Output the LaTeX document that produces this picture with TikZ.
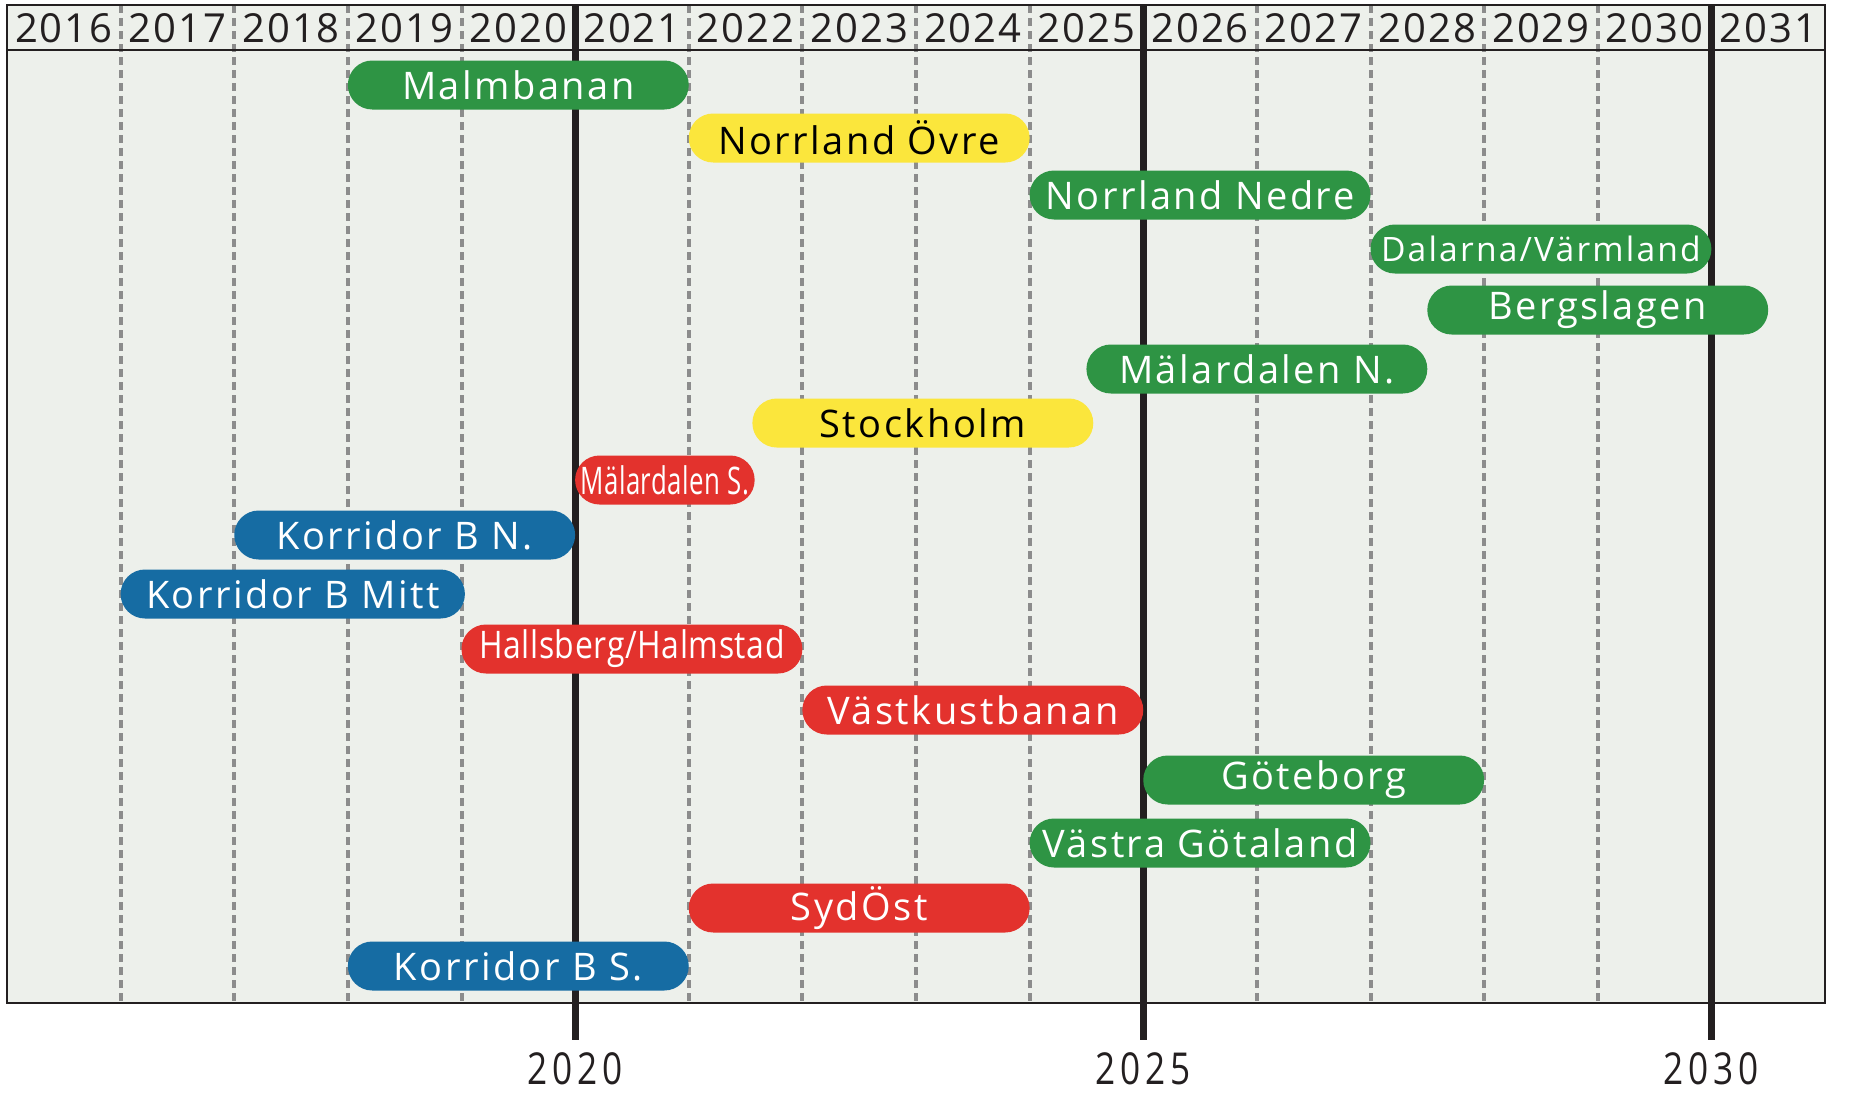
\documentclass[tikz,border=0pt]{standalone}
\usepackage{fontspec}
\setmainfont{Open Sans}
\newfontfamily\barfont[LetterSpace=6.5]{Open Sans}
\newfontfamily\yearfont[LetterSpace=5]{Open Sans}
\newfontfamily\condfont[LetterSpace=2]{Open Sans}
\newfontfamily\botfont[LetterSpace=14]{Open Sans}
\definecolor{bg}{RGB}{237,240,235}
\definecolor{tgreen}{RGB}{46,148,68}
\definecolor{tyellow}{RGB}{251,230,60}
\definecolor{tred}{RGB}{227,50,45}
\definecolor{tblue}{RGB}{22,108,163}
\definecolor{dgray}{RGB}{140,140,140}
\definecolor{framec}{RGB}{35,31,32}
\newcommand\ganttbar[7]{\node[tbar,fill=#2,text=#3,minimum width={(#5-#4)*56.8125pt}] (#1) at ({7+((#4+#5)/2-2016)*113.625},#6) {#7};}
\begin{document}
\begin{tikzpicture}[x=0.5pt,y=-0.5pt,
  tbar/.style={rounded corners=12.2pt, minimum height=24.5pt, inner sep=0pt, font=\barfont\fontsize{19}{20}\selectfont},
  dashline/.style={dgray, line width=2pt, dash pattern=on 4pt off 2.5pt},
  thickline/.style={framec, line width=3.5pt},
  yearlab/.style={font=\yearfont\fontsize{20}{22}\selectfont, text=framec, inner sep=0pt},
  bottomlab/.style={font=\botfont\fontsize{22}{24}\selectfont, text=framec, inner sep=0pt}]
\useasboundingbox (0,0) rectangle (1853,1098);
\fill[bg] (7,5) rectangle (1825,1003);
\foreach \k in {1,2,3,4,6,7,8,9,11,12,13,14}
  \draw[dashline] ({7+\k*113.625},5) -- ({7+\k*113.625},1003);
\foreach \k in {5,10,15}
  \draw[thickline] ({7+\k*113.625},5) -- ({7+\k*113.625},1040);
\draw[framec, line width=1pt] (7,50) -- (1825,50);
\foreach \k in {0,...,15}{
  \pgfmathtruncatemacro\yr{2016+\k}
  \node[yearlab] (y\yr) at ({7+(\k+0.5)*113.625},28) {\yr};
}
\ganttbar{malm}{tgreen}{white}{2019}{2022}{85}{Malmbanan}
\ganttbar{novre}{tyellow}{black}{2022}{2025}{138}{Norrland Övre}
\ganttbar{nnedre}{tgreen}{white}{2025}{2028}{195}{Norrland Nedre}
\ganttbar{dalarna}{tgreen}{white}{2028}{2031}{249}{\fontsize{16.8}{20}\selectfont Dalarna/Värmland}
\ganttbar{berg}{tgreen}{white}{2028.5}{2031.5}{310}{Bergslagen}
\ganttbar{maln}{tgreen}{white}{2025.5}{2028.5}{369}{Mälardalen N.}
\ganttbar{sthlm}{tyellow}{black}{2022.56}{2025.56}{423}{Stockholm}
\ganttbar{mals}{tred}{white}{2021}{2022.58}{480}{\condfont\scalebox{0.68}[1]{Mälardalen S.}}
\ganttbar{kbn}{tblue}{white}{2018}{2021}{535}{Korridor B N.}
\ganttbar{kbm}{tblue}{white}{2017}{2020.03}{594}{Korridor B Mitt}
\ganttbar{hall}{tred}{white}{2020}{2023}{649}{\condfont\scalebox{0.84}[1]{Hallsberg/Halmstad}}
\ganttbar{vkust}{tred}{white}{2023}{2026}{710}{Västkustbanan}
\ganttbar{gbg}{tgreen}{white}{2026}{2029}{780}{Göteborg}
\ganttbar{vgot}{tgreen}{white}{2025}{2028}{843}{Västra Götaland}
\ganttbar{sydost}{tred}{white}{2022}{2025}{908}{SydÖst}
\ganttbar{kbs}{tblue}{white}{2019}{2022}{966}{Korridor B S.}
\draw[framec, line width=1.25pt] (7,5) rectangle (1825,1003);
\node[bottomlab] (b2020) at ({7+5*113.625},1069) {\scalebox{0.8}[1]{2020}};
\node[bottomlab] (b2025) at ({7+10*113.625},1069) {\scalebox{0.8}[1]{2025}};
\node[bottomlab] (b2030) at ({7+15*113.625},1069) {\scalebox{0.8}[1]{2030}};
\end{tikzpicture}
\end{document}
